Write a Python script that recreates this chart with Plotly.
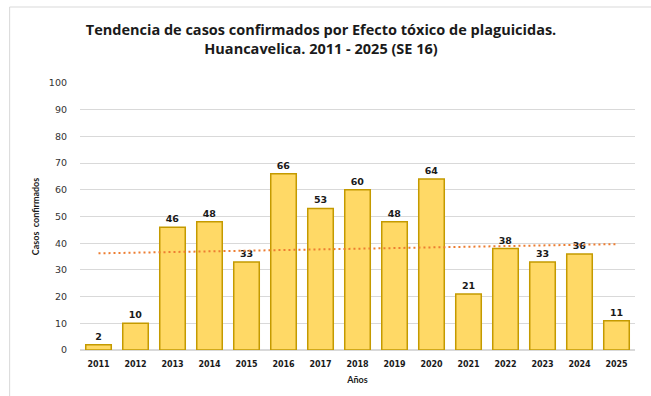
import numpy as np
import plotly.graph_objects as go

# Confirmed cases per year
years = ["2011", "2012", "2013", "2014", "2015", "2016", "2017", "2018",
         "2019", "2020", "2021", "2022", "2023", "2024", "2025"]
cases = [2, 10, 46, 48, 33, 66, 53, 60, 48, 64, 21, 38, 33, 36, 11]
y_ticks = list(range(0, 101, 10))

# Linear trend line (least squares over the yearly series)
idx = np.arange(len(cases))
slope, intercept = np.polyfit(idx, cases, 1)
trend = slope * idx + intercept

W, H = 651, 396
L, R, T, B = 79.5, 15.5, 83, 46
plot_w = W - L - R
plot_h = H - T - B


def px_x(p):
    return (p - L) / plot_w


def px_y(p):
    return 1 + (T - p) / plot_h


fig = go.Figure()

fig.add_trace(go.Bar(
    x=years, y=cases,
    marker=dict(color="#FFD966", line=dict(color="#C49A00", width=1.5)),
    text=[str(v) for v in cases],
    textposition="outside",
    cliponaxis=False,
    textfont=dict(family="DejaVu Sans", size=9.5, color="#1a1a1a", weight="bold"),
    showlegend=False,
))

fig.add_trace(go.Scatter(
    x=years, y=trend, mode="lines",
    line=dict(color="#ED7D31", width=2, dash="2px,3px"),
    showlegend=False, hoverinfo="skip",
))

fig.update_layout(
    width=W, height=H,
    margin=dict(l=L, r=R, t=T, b=B),
    paper_bgcolor="white", plot_bgcolor="white",
    bargap=0.31,
    title=dict(
        text="Tendencia de casos confirmados por Efecto tóxico de plaguicidas.<br>"
             "Huancavelica. 2011 - 2025 (SE 16)",
        x=(321 / W), xanchor="center",
        y=1 - 35 / H, yanchor="top",
        font=dict(family="Open Sans", size=14.5, color="#1a1a1a", weight="bold"),
    ),
    xaxis=dict(
        type="category",
        showgrid=False,
        showline=False,
        ticks="",
        tickfont=dict(family="DejaVu Sans", size=8, color="#1a1a1a", weight="bold"),
        ticklabelstandoff=8,
        title=dict(text="Años", standoff=8,
                   font=dict(family="Lato", size=9, color="#1a1a1a", weight="bold")),
    ),
    yaxis=dict(
        range=[0, 100],
        tickvals=y_ticks,
        showgrid=True, gridcolor="#D9D9D9", gridwidth=1.3,
        zeroline=True, zerolinecolor="#D9D9D9", zerolinewidth=1.5,
        showline=False, ticks="",
        tickfont=dict(family="DejaVu Sans", size=9.5, color="#333333"),
        ticklabelstandoff=12,
        title=dict(text="Casos  confirmados", standoff=7,
                   font=dict(family="Lato", size=9, color="#1a1a1a", weight="bold")),
    ),
    shapes=[
        dict(type="rect", xref="paper", yref="paper",
             x0=px_x(9), x1=px_x(W + 20), y0=px_y(H + 20), y1=px_y(7),
             line=dict(color="#D9D9D9", width=1), fillcolor="rgba(0,0,0,0)",
             layer="below"),
    ],
)

fig.write_html("out.html")
